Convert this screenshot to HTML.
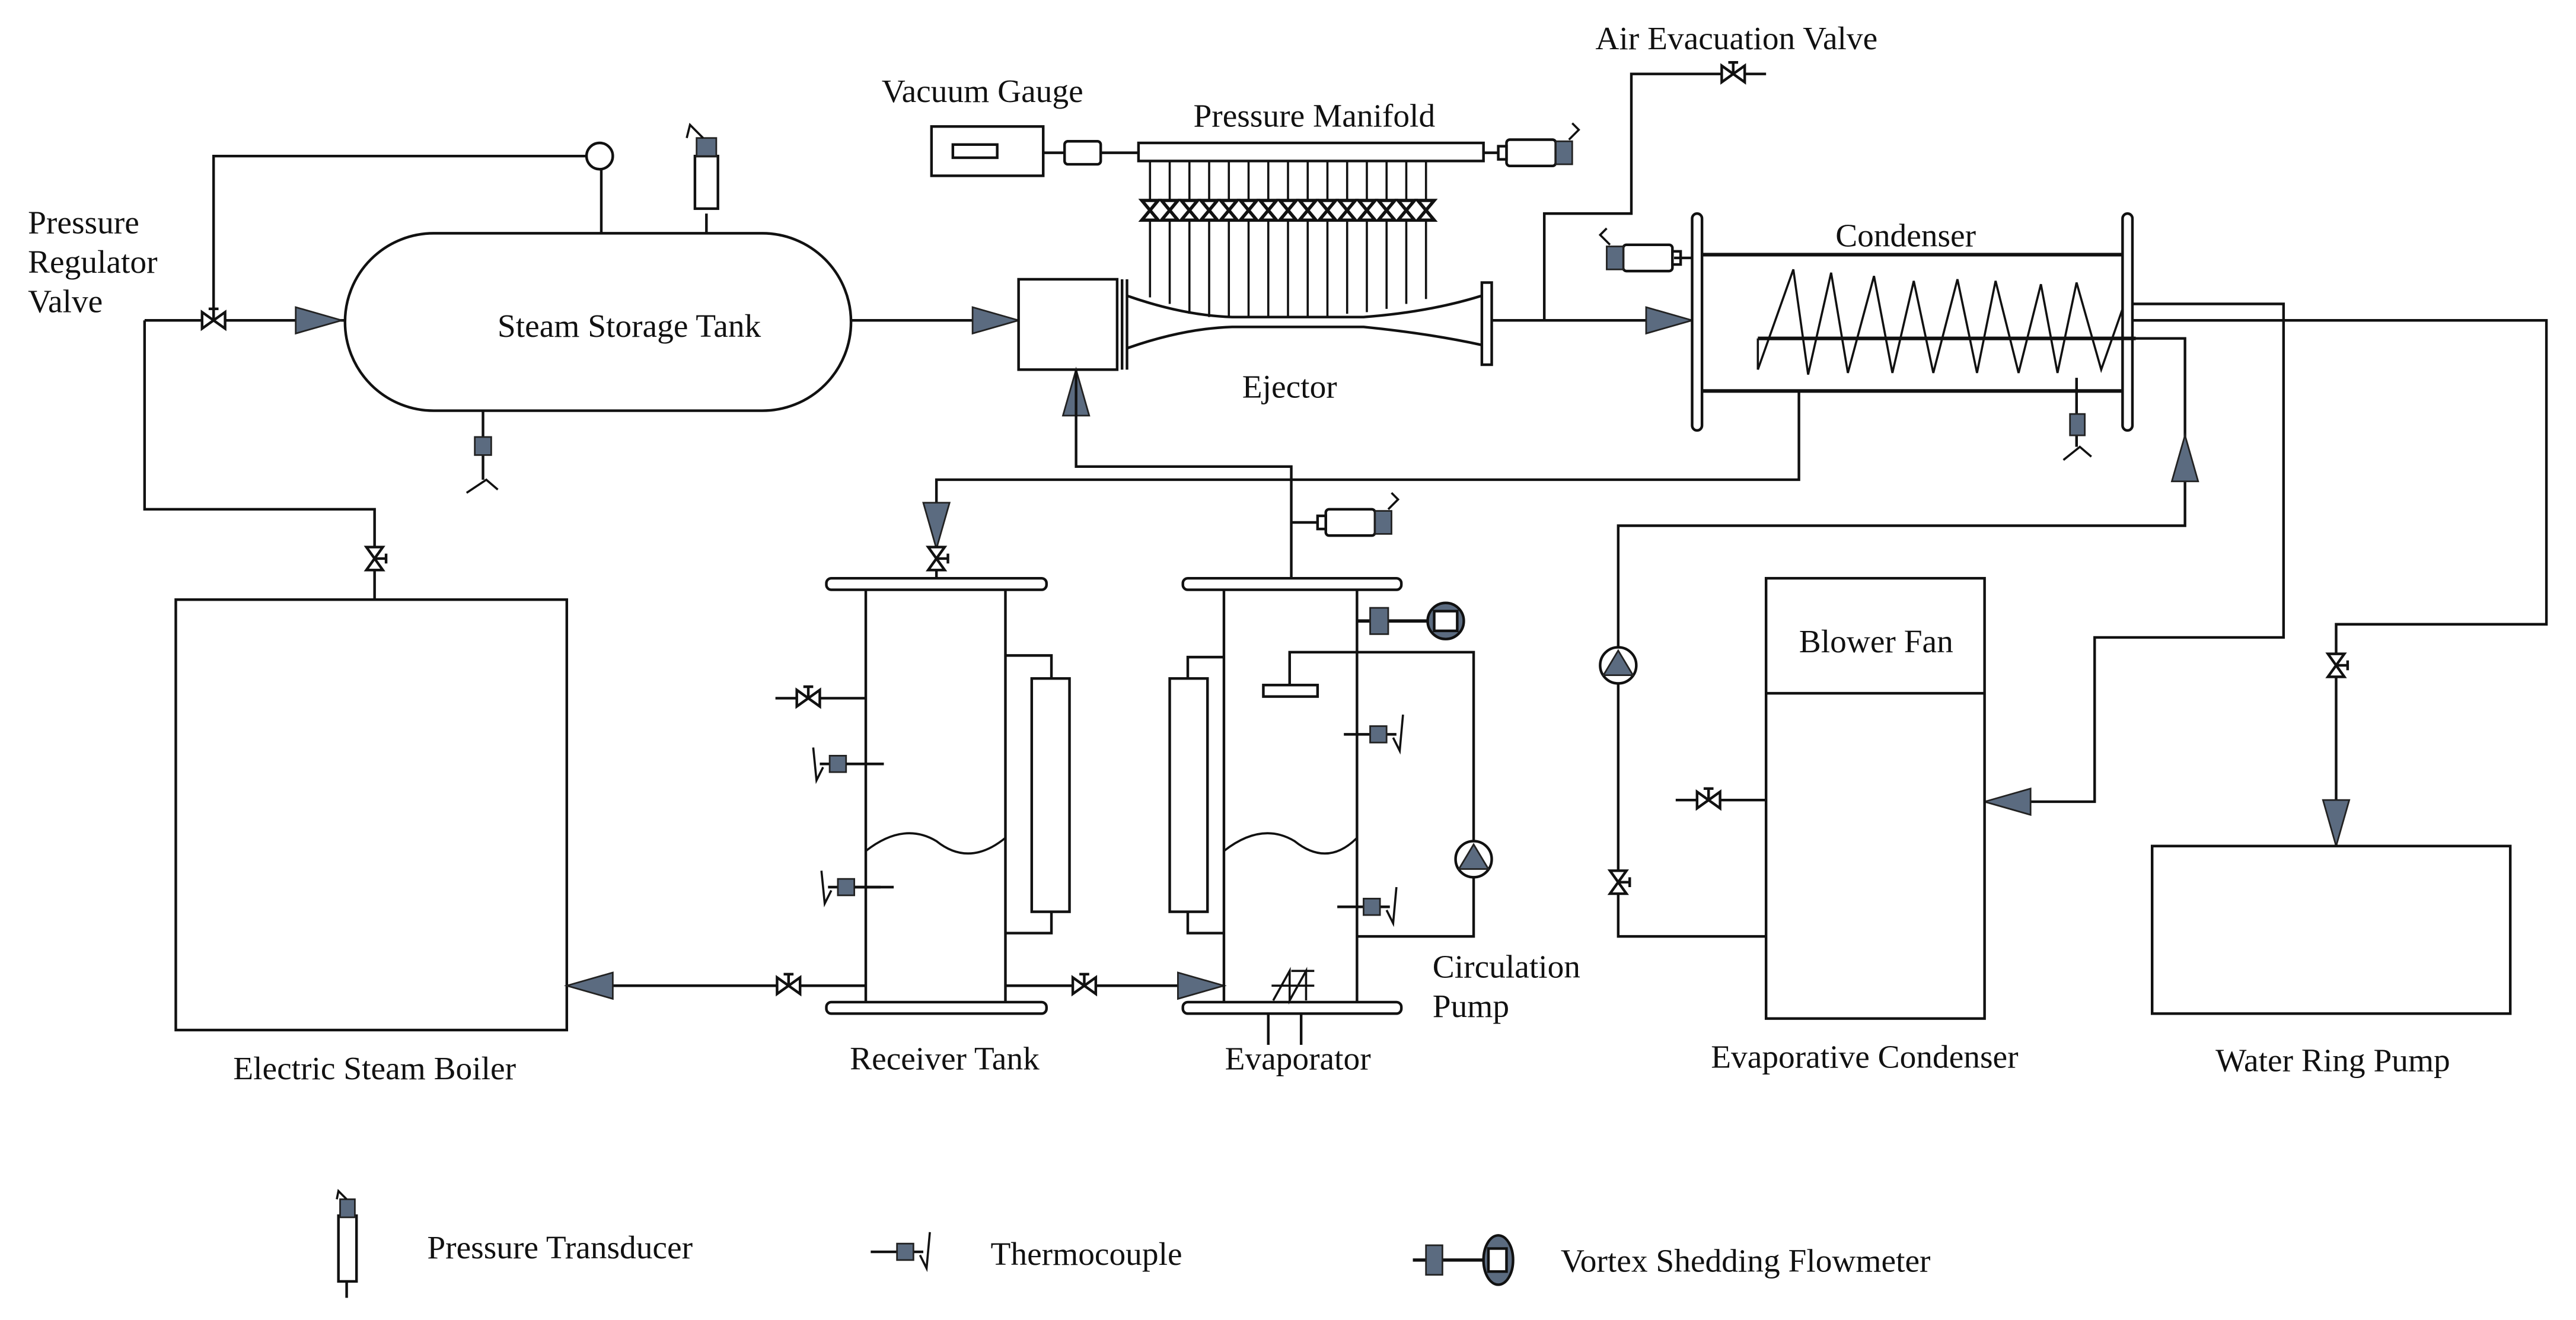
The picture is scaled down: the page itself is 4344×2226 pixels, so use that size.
<!DOCTYPE html>
<html><head><meta charset="utf-8"><style>html,body{margin:0;padding:0;background:#fff}svg{display:block}</style></head><body>
<svg width="4344" height="2226" viewBox="0 0 1568 803.5" xmlns="http://www.w3.org/2000/svg" font-family="'Liberation Serif', serif" font-size="20" fill="none" stroke="#111" stroke-width="1.6">
<defs>
<g id="vh"><path d="M-7,-5 L7,5 L7,-5 L-7,5 Z" fill="#fff" stroke-width="1.6"/><line x1="0" y1="0" x2="0" y2="-7"/><line x1="-3" y1="-7" x2="3" y2="-7"/></g>
<g id="vv"><path d="M-5,-7 L5,7 L-5,7 L5,-7 Z" fill="#fff" stroke-width="1.6"/><line x1="0" y1="0" x2="7" y2="0"/><line x1="7" y1="-3" x2="7" y2="3"/></g>
<g id="vm"><path d="M-5,-6 L5,6 L-5,6 L5,-6 Z" fill="#fff" stroke-width="2"/></g>
<polygon id="ar" points="-28,-8 0,0 -28,8" fill="#5b6b80" stroke="#222" stroke-width="1"/>
<g id="pump"><circle cx="0" cy="0" r="11" fill="#fff"/><polygon points="0,-9 9,6 -9,6" fill="#5b6b80" stroke="#222" stroke-width="1"/></g>
<g id="tc"><line x1="-22" y1="0" x2="10" y2="0"/><rect x="-6" y="-5" width="10" height="10" fill="#5b6b80" stroke="#222" stroke-width="1"/><path d="M14,-12 L12,10 L8,2" stroke-width="1.3"/></g>
<g id="tcl"><line x1="22" y1="0" x2="-10" y2="0"/><rect x="-4" y="-5" width="10" height="10" fill="#5b6b80" stroke="#222" stroke-width="1"/><path d="M-14,-10 L-12,10 L-8,2" stroke-width="1.3"/></g>
<g id="ptr"><rect x="-20" y="-8" width="30" height="16" rx="2" fill="#fff"/><rect x="10" y="-7" width="10" height="14" fill="#5b6b80" stroke="#222" stroke-width="1"/><path d="M18,-8 L24,-14 L20,-18" stroke-width="1.3"/><rect x="-25" y="-4" width="5" height="8" fill="#fff"/></g>
</defs>

<!-- Pressure regulator / left loop -->
<polyline points="366,142 366,95"/>
<circle cx="365" cy="95" r="8" fill="#fff"/>
<polyline points="357,95 130,95 130,195"/>
<polyline points="88,195 210,195"/>
<use href="#vh" x="130" y="195"/>
<use href="#ar" x="208" y="195"/>
<polyline points="88,195 88,310 228,310 228,365"/>
<use href="#vv" x="228" y="340"/>

<!-- Steam storage tank -->
<rect x="210" y="142" width="308" height="108" rx="54" fill="#fff"/>
<text x="383" y="205" text-anchor="middle" fill="#111" stroke="none">Steam Storage Tank</text>
<line x1="430" y1="130" x2="430" y2="142"/>
<rect x="423" y="95" width="14" height="32" fill="#fff"/>
<rect x="424" y="84" width="12" height="11" fill="#5b6b80" stroke="#222" stroke-width="1"/>
<path d="M428,84 L420,76 L418,84" stroke-width="1.3"/>
<line x1="294" y1="250" x2="294" y2="292"/>
<rect x="289" y="266" width="10" height="11" fill="#5b6b80" stroke="#222" stroke-width="1"/>
<path d="M284,300 L296,292 L303,298" stroke-width="1.3"/>

<text x="17" y="142" fill="#111" stroke="none">Pressure</text>
<text x="17" y="166" fill="#111" stroke="none">Regulator</text>
<text x="17" y="190" fill="#111" stroke="none">Valve</text>

<line x1="518" y1="195" x2="620" y2="195"/>
<use href="#ar" x="620" y="195"/>

<!-- Ejector -->
<rect x="620" y="170" width="60" height="55" fill="#fff"/>
<line x1="683" y1="170" x2="683" y2="225"/><line x1="686" y1="170" x2="686" y2="225"/>
<path d="M686,180 Q720,192 750,193 L830,193 Q870,190 902,180"/>
<path d="M686,212 Q720,200 750,199 L830,199 Q870,203 902,210"/>
<rect x="902" y="172" width="6" height="50" fill="#fff"/>
<text x="785" y="242" text-anchor="middle" fill="#111" stroke="none">Ejector</text>
<use href="#ar" x="655" y="225" transform="rotate(-90 655 225)"/>

<!-- Vacuum gauge & manifold -->
<text x="598" y="62" text-anchor="middle" fill="#111" stroke="none">Vacuum Gauge</text>
<rect x="567" y="77" width="68" height="30" fill="#fff"/>
<rect x="580" y="88" width="27" height="8" fill="#fff"/>
<line x1="635" y1="93" x2="648" y2="93"/>
<rect x="648" y="86" width="22" height="14" rx="2" fill="#fff"/>
<line x1="670" y1="93" x2="693" y2="93"/>
<rect x="693" y="87" width="210" height="11" fill="#fff"/>
<text x="800" y="77" text-anchor="middle" fill="#111" stroke="none">Pressure Manifold</text>
<line x1="903" y1="93" x2="912" y2="93"/>
<use href="#ptr" x="937" y="93"/>
<g stroke-width="1.3">
<line x1="700" y1="98" x2="700" y2="181"/><line x1="712" y1="98" x2="712" y2="185"/><line x1="724" y1="98" x2="724" y2="191"/><line x1="736" y1="98" x2="736" y2="193"/><line x1="748" y1="98" x2="748" y2="193"/><line x1="760" y1="98" x2="760" y2="193"/><line x1="772" y1="98" x2="772" y2="193"/><line x1="784" y1="98" x2="784" y2="193"/><line x1="796" y1="98" x2="796" y2="193"/><line x1="808" y1="98" x2="808" y2="193"/><line x1="820" y1="98" x2="820" y2="191"/><line x1="832" y1="98" x2="832" y2="190"/><line x1="844" y1="98" x2="844" y2="188"/><line x1="856" y1="98" x2="856" y2="185"/><line x1="868" y1="98" x2="868" y2="182"/>
</g>
<g>
<use href="#vm" x="700" y="128"/><use href="#vm" x="712" y="128"/><use href="#vm" x="724" y="128"/><use href="#vm" x="736" y="128"/><use href="#vm" x="748" y="128"/><use href="#vm" x="760" y="128"/><use href="#vm" x="772" y="128"/><use href="#vm" x="784" y="128"/><use href="#vm" x="796" y="128"/><use href="#vm" x="808" y="128"/><use href="#vm" x="820" y="128"/><use href="#vm" x="832" y="128"/><use href="#vm" x="844" y="128"/><use href="#vm" x="856" y="128"/><use href="#vm" x="868" y="128"/>
</g>

<!-- ejector outlet -->
<line x1="908" y1="195" x2="1030" y2="195"/>
<use href="#ar" x="1030" y="195"/>
<polyline points="940,195 940,130 993,130 993,45 1075,45"/>
<use href="#vh" x="1055" y="45"/>
<text x="1057" y="30" text-anchor="middle" fill="#111" stroke="none">Air Evacuation Valve</text>

<!-- Condenser -->
<rect x="1030" y="130" width="6" height="132" rx="3" fill="#fff"/>
<rect x="1292" y="130" width="6" height="132" rx="3" fill="#fff"/>
<line x1="1036" y1="155" x2="1292" y2="155" stroke-width="2.2"/>
<line x1="1036" y1="238" x2="1292" y2="238" stroke-width="2.2"/>
<text x="1160" y="150" text-anchor="middle" fill="#111" stroke="none">Condenser</text>
<use href="#ptr" x="998" y="157" transform="scale(-1 1) translate(-1996 0)"/>
<line x1="1019" y1="157" x2="1030" y2="157"/>
<line x1="1070" y1="206" x2="1300" y2="206" stroke-width="2.2"/>
<line x1="1070" y1="206" x2="1070" y2="225" stroke-width="1.3"/>
<polyline stroke-width="1.3" points="1070,225 1091.6,164 1100.6,228 1114.6,166 1124.8,227 1140.7,168 1151.9,227 1164.9,171 1176.8,227 1191.5,170 1203.4,227 1214.7,171 1228.7,227 1242.3,173 1252.4,227 1264,172 1279,225 1292,188"/>
<line x1="1264" y1="230" x2="1264" y2="272"/>
<rect x="1260" y="252" width="9" height="13" fill="#5b6b80" stroke="#222" stroke-width="1"/>
<path d="M1256,280 L1266,272 L1273,278" stroke-width="1.3"/>

<polyline points="1095,238 1095,292 570,292 570,352"/>
<use href="#ar" x="570" y="334" transform="rotate(90 570 334)"/>
<use href="#vv" x="570" y="340"/>
<polyline points="655,225 655,284 786,284 786,352"/>
<use href="#ptr" x="827" y="318"/>
<line x1="786" y1="318" x2="802" y2="318"/>

<polyline points="1298,185 1390,185 1390,388 1275,388 1275,488 1208,488"/>
<use href="#ar" x="1208" y="488" transform="rotate(180 1208 488)"/>
<polyline points="1298,195 1550,195 1550,380 1422,380 1422,515"/>
<use href="#vv" x="1422" y="405"/>
<use href="#ar" x="1422" y="515" transform="rotate(90 1422 515)"/>
<polyline points="1298,206 1330,206 1330,320 985,320 985,570 1075,570"/>
<use href="#ar" x="1330" y="265" transform="rotate(-90 1330 265)"/>
<use href="#pump" x="985" y="405"/>
<use href="#vv" x="985" y="537"/>

<!-- Evaporative condenser -->
<rect x="1075" y="352" width="133" height="268" fill="#fff"/>
<line x1="1075" y1="422" x2="1208" y2="422"/>
<text x="1142" y="397" text-anchor="middle" fill="#111" stroke="none">Blower Fan</text>
<line x1="1020" y1="487" x2="1075" y2="487"/>
<use href="#vh" x="1040" y="487"/>
<text x="1135" y="650" text-anchor="middle" fill="#111" stroke="none">Evaporative Condenser</text>

<rect x="1310" y="515" width="218" height="102" fill="#fff"/>
<text x="1420" y="652" text-anchor="middle" fill="#111" stroke="none">Water Ring Pump</text>

<!-- Boiler -->
<rect x="107" y="365" width="238" height="262" fill="#fff"/>
<text x="228" y="657" text-anchor="middle" fill="#111" stroke="none">Electric Steam Boiler</text>
<line x1="345" y1="600" x2="527" y2="600"/>
<use href="#ar" x="345" y="600" transform="rotate(180 345 600)"/>
<use href="#vh" x="480" y="600"/>

<!-- Receiver tank -->
<rect x="503" y="352" width="134" height="7" rx="3" fill="#fff"/>
<rect x="503" y="610" width="134" height="7" rx="3" fill="#fff"/>
<line x1="527" y1="359" x2="527" y2="610"/><line x1="612" y1="359" x2="612" y2="610"/>
<path d="M527,518 Q550,500 570,512 Q590,528 612,510" stroke-width="1.3"/>
<rect x="628" y="413" width="23" height="142" fill="#fff"/>
<polyline points="612,399 640,399 640,413"/><polyline points="612,568 640,568 640,555"/>
<line x1="472" y1="425" x2="527" y2="425"/><use href="#vh" x="492" y="425"/>
<use href="#tcl" x="509" y="465"/>
<line x1="515" y1="465" x2="538" y2="465"/>
<use href="#tcl" x="514" y="540"/><line x1="520" y1="540" x2="544" y2="540"/>
<text x="575" y="651" text-anchor="middle" fill="#111" stroke="none">Receiver Tank</text>

<line x1="612" y1="600" x2="745" y2="600"/>
<use href="#vh" x="660" y="600"/>
<use href="#ar" x="745" y="600"/>

<!-- Evaporator -->
<rect x="720" y="352" width="133" height="7" rx="3" fill="#fff"/>
<rect x="720" y="610" width="133" height="7" rx="3" fill="#fff"/>
<line x1="745" y1="359" x2="745" y2="610"/><line x1="826" y1="359" x2="826" y2="610"/>
<path d="M745,518 Q768,500 788,512 Q808,528 826,510" stroke-width="1.3"/>
<rect x="712" y="413" width="23" height="142" fill="#fff"/>
<polyline points="745,400 723,400 723,413"/><polyline points="745,568 723,568 723,555"/>
<rect x="769" y="417" width="33" height="7" fill="#fff"/>
<polyline points="785,417 785,397 897,397 897,570 826,570"/>
<use href="#pump" x="897" y="523"/>
<use href="#tc" x="840" y="447"/>
<use href="#tc" x="836" y="552"/>
<line x1="826" y1="378" x2="870" y2="378" stroke-width="2"/>
<rect x="834" y="370" width="11" height="16" fill="#5b6b80" stroke="#222" stroke-width="1"/>
<circle cx="880" cy="378" r="11" fill="#5b6b80"/>
<rect x="873" y="372" width="14" height="12" fill="#fff"/>
<!-- heater -->
<polyline stroke-width="1.3" points="775,609 785,591 785,609 795,591 795,609"/>
<line x1="774" y1="600" x2="800" y2="600" stroke-width="1.3"/>
<line x1="786" y1="591" x2="800" y2="591" stroke-width="1.3"/>
<line x1="772" y1="617" x2="772" y2="636"/><line x1="792" y1="617" x2="792" y2="636"/>
<text x="790" y="651" text-anchor="middle" fill="#111" stroke="none">Evaporator</text>
<text x="872" y="595" fill="#111" stroke="none">Circulation</text>
<text x="872" y="619" fill="#111" stroke="none">Pump</text>

<!-- Legend -->
<g>
<rect x="206" y="740" width="11" height="40" fill="#fff"/>
<rect x="207" y="730" width="9" height="11" fill="#5b6b80" stroke="#222" stroke-width="1"/>
<path d="M211,730 L206,725 L205,730" stroke-width="1.3"/>
<line x1="211" y1="780" x2="211" y2="790"/>
<text x="260" y="766" fill="#111" stroke="none">Pressure Transducer</text>
<use href="#tc" x="552" y="762"/>
<text x="603" y="770" fill="#111" stroke="none">Thermocouple</text>
<line x1="860" y1="767" x2="906" y2="767" stroke-width="2"/>
<rect x="868" y="758" width="10" height="18" fill="#5b6b80" stroke="#222" stroke-width="1"/>
<ellipse cx="912" cy="767" rx="9" ry="15" fill="#5b6b80"/>
<rect x="906" y="760" width="11" height="14" fill="#fff"/>
<text x="950" y="774" fill="#111" stroke="none">Vortex Shedding Flowmeter</text>
</g>
</svg>
</body></html>
